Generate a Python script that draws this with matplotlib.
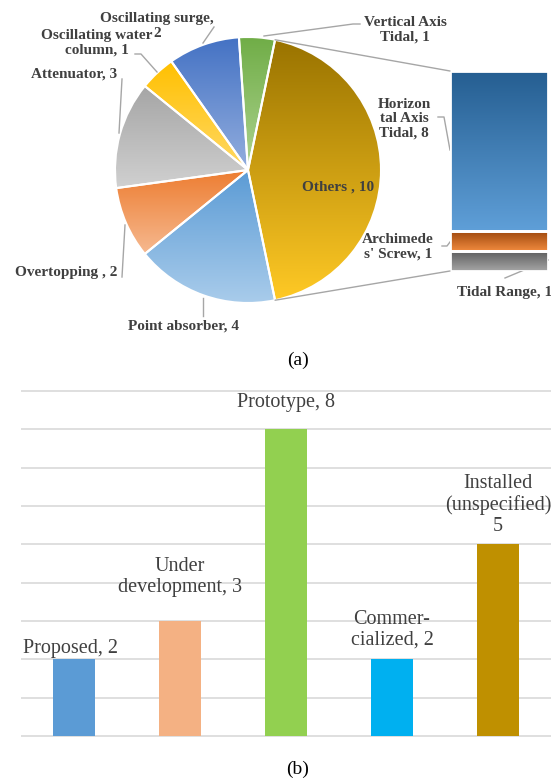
import numpy as np
import matplotlib
matplotlib.use("Agg")
import matplotlib.pyplot as plt
import matplotlib.colors as mcolors
from matplotlib.patches import ConnectionPatch

# (a) pie of bar
pie_labels = ["Others", "Point absorber", "Overtopping", "Attenuator",
              "Oscillating water column", "Oscillating surge", "Vertical Axis Tidal"]
pie_values = [10, 4, 2, 3, 1, 2, 1]
pie_top = ["#997300", "#5B9BD5", "#ED7D31", "#A5A5A5", "#FFC000", "#4472C4", "#70AD47"]
pie_bottom = ["#FFC925", "#A9CCEB", "#F6B990", "#D0D0D0", "#FFD966", "#93AEDE", "#ADD38F"]

stack_labels = ["Tidal Range", "Archimedes' Screw", "Horizontal Axis Tidal"]
stack_values = [1, 1, 8]
stack_top = ["#5E5E5E", "#9E480E", "#255E91"]
stack_bottom = ["#A5A5A5", "#F08A3E", "#5F9FD8"]

# (b) development status
status_labels = ["Proposed, 2", "Under\ndevelopment, 3", "Prototype, 8",
                 "Commer-\ncialized, 2", "Installed\n(unspecified)\n5"]
status_values = [2, 3, 8, 2, 5]
status_colors = ["#5B9BD5", "#F4B183", "#92D050", "#00B0F0", "#BF9000"]

W, H = 551, 783
TXT = "#404040"
LEAD = "#A6A6A6"
SERIF = "Liberation Serif"


def gradient(ax, patch, top, bottom, x0, x1, y_bot, y_top):
    a = np.array(mcolors.to_rgb(top))
    b = np.array(mcolors.to_rgb(bottom))
    t = np.linspace(0, 1, 256)[:, None, None]
    img = a + (b - a) * t
    im = ax.imshow(img, extent=(x0, x1, y_bot, y_top), origin="upper",
                   aspect="auto", interpolation="bilinear", zorder=1)
    im.set_clip_path(patch)


fig = plt.figure(figsize=(W / 100, H / 100), dpi=100)

# top panel works in pixel units (y down)
top_h = 340
ax = fig.add_axes([0, 1 - top_h / H, 1, top_h / H])
cx, cy, r = 248, 170, 133
total = sum(pie_values)
start = -180 * pie_values[0] / total
wedges, _ = ax.pie(pie_values, center=(cx, cy), radius=r, startangle=start,
                   counterclock=True, frame=True,
                   wedgeprops=dict(facecolor="none", edgecolor="white",
                                   linewidth=1.5, zorder=2))
for w, c1, c2 in zip(wedges, pie_top, pie_bottom):
    th = np.radians(np.linspace(w.theta1, w.theta2, 200))
    xs = np.concatenate([[cx], cx + r * np.cos(th)])
    ys = np.concatenate([[cy], cy + r * np.sin(th)])
    gradient(ax, w, c1, c2, xs.min(), xs.max(), ys.max(), ys.min())

ax.set_aspect("auto")
ax.set_xlim(0, W)
ax.set_ylim(top_h, 0)
ax.axis("off")

# the stacked bar
ax_s = fig.add_axes([450 / W, 1 - 271 / H, 98 / W, 200 / H])
bottoms = np.concatenate([[0], np.cumsum(stack_values)[:-1]])
bars = ax_s.bar(0, stack_values, bottom=bottoms, width=1, facecolor="none",
                edgecolor="white", linewidth=2, zorder=2)
for rect, c1, c2 in zip(bars, stack_top, stack_bottom):
    x0, y0 = rect.get_x(), rect.get_y()
    gradient(ax_s, rect, c1, c2, x0, x0 + rect.get_width(), y0, y0 + rect.get_height())
ax_s.set_xlim(-0.5, 0.5)
ax_s.set_ylim(0, sum(stack_values))
ax_s.axis("off")

# connector lines pie -> bar
for ang, yb in [(np.radians(start), sum(stack_values)), (np.radians(-start), 0)]:
    con = ConnectionPatch(xyA=(cx + r * np.cos(ang), cy + r * np.sin(ang)), coordsA=ax.transData,
                          xyB=(-0.5, yb), coordsB=ax_s.transData, color=LEAD, lw=1.0)
    fig.add_artist(con)

# pie labels
lab = dict(fontfamily=SERIF, fontweight="bold", fontsize=11, color=TXT,
           ha="center", va="center", linespacing=1.15)
ax.text(157, 26, "Oscillating surge,\n2", **lab)
ax.text(97, 43, "Oscillating water\ncolumn, 1", **lab)
ax.text(74, 74, "Attenuator, 3", **lab)
ax.text(66, 272, "Overtopping , 2", **lab)
ax.text(183, 326, "Point absorber, 4", **lab)
ax.text(405, 30, "Vertical Axis\nTidal, 1", **lab)
ax.text(338, 187, "Others , 10", **lab)
ax.text(404, 119, "Horizon\ntal Axis\nTidal, 8", **lab)
ax.text(398, 247, "Archimede\ns' Screw, 1", **lab)
ax.text(457, 292, "Tidal Range, 1", **{**lab, "ha": "left"})

leaders = [
    [(203, 43), (214, 27)],
    [(135, 54), (141, 54), (157, 72)],
    [(122, 79), (119, 133)],
    [(122, 277), (125, 225)],
    [(203, 316), (203, 298)],
    [(360, 24), (353, 24), (264, 36)],
    [(438, 117), (444, 117), (450, 150)],
    [(442, 246), (447, 246), (450, 242)],
    [(505, 278), (548, 260)],
]
for pts in leaders:
    xs, ys = zip(*pts)
    ax.plot(xs, ys, color=LEAD, lw=1.0, zorder=3)

fig.text(298 / W, 1 - 360 / H, "(a)", fontfamily=SERIF, fontsize=14,
         color="black", ha="center", va="center")

# (b) bar chart
unit = 38.33
ax_b = fig.add_axes([21 / W, (H - 736 - 0.05 * unit) / H, 530 / W, 9.1 * unit / H])
x = np.arange(len(status_values))
ax_b.bar(x, status_values, width=0.39, color=status_colors, zorder=2)
ax_b.set_xlim(-0.5, 4.5)
ax_b.set_ylim(-0.05, 9.05)
ax_b.set_yticks(range(10))
ax_b.set_xticks([])
ax_b.yaxis.grid(True, color="#D9D9D9", linewidth=1.2)
ax_b.tick_params(left=False, labelleft=False)
for s in ax_b.spines.values():
    s.set_visible(False)

label_dx = [-0.03, 0, 0, 0, 0]
label_dy = [0.27, 1.15, 0.71, 0.77, 1.03]
for i, (t, v) in enumerate(zip(status_labels, status_values)):
    ax_b.text(i + label_dx[i], v + label_dy[i], t, fontfamily=SERIF, fontsize=14.5,
              color=TXT, ha="center", va="center", linespacing=1.15)

fig.text(298 / W, 1 - 769 / H, "(b)", fontfamily=SERIF, fontsize=14,
         color="black", ha="center", va="center")

fig.savefig("out.png", dpi=100)
